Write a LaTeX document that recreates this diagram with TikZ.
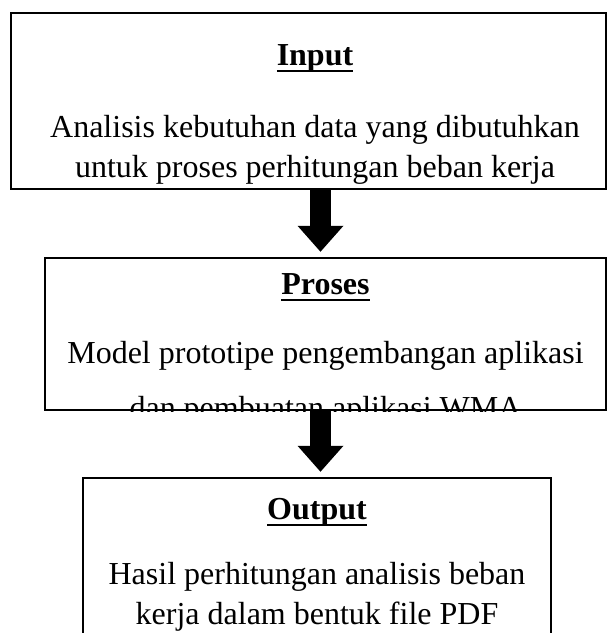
\documentclass[tikz,border=0pt]{standalone}
\usepackage{fontspec}
\setmainfont{Liberation Serif}
\usetikzlibrary{arrows.meta,positioning,calc}
\newcommand{\titleul}[1]{\setbox0\hbox{#1}\rlap{\rule[-6.5pt]{\wd0}{2pt}}\box0}

\begin{document}
\begin{tikzpicture}[x=1pt, y=-1pt,
  box/.style={draw, line width=2.5pt, inner sep=0pt},
  boxtitle/.style={font=\fontsize{32pt}{34pt}\selectfont\bfseries, inner sep=0pt, anchor=base},
  boxbody/.style={font=\fontsize{32pt}{40pt}\selectfont, align=center, inner sep=0pt, anchor=base},
  flow/.style={line width=21pt, -{Triangle[width=46pt, length=26pt, line width=0pt]}, shorten >=5pt}]
\useasboundingbox (0,0) rectangle (608,633);
\clip (0,0) rectangle (608,633);
% boxes
\node[box, minimum width=595pt, minimum height=176pt] (inbox) at (308.5,101) {};
\node[box, minimum width=561pt, minimum height=152pt] (probox) at (325.5,334) {};
\node[box, minimum width=468pt, minimum height=222pt] (outbox) at (317,589) {};
% input
\node[boxtitle] (intitle) at ([xshift=6.5pt, yshift=-54pt]inbox.north) {\titleul{Input}};
\node[boxbody] (inbody) at ([xshift=6.5pt, yshift=-166pt]inbox.north)
  {Analisis kebutuhan data yang dibutuhkan\\untuk proses perhitungan beban kerja};
% proses (text cut off by the box)
\node[boxtitle] (protitle) at ([yshift=-38pt]probox.north) {\titleul{Proses}};
\begin{scope}
  \clip (probox.north west) rectangle (probox.south east);
  \node[boxbody] (probody) at ([yshift=-162pt]probox.north)
    {Model prototipe pengembangan aplikasi\\[15pt]dan pembuatan aplikasi WMA};
\end{scope}
\node[box, minimum width=561pt, minimum height=152pt] at (probox) {};
% output
\node[boxtitle] (outtitle) at ([yshift=-43pt]outbox.north) {\titleul{Output}};
\node[boxbody] (outbody) at ([yshift=-148pt]outbox.north)
  {Hasil perhitungan analisis beban\\kerja dalam bentuk file PDF};
% arrows
\draw[flow] ([xshift=12pt]inbox.south) -- ([xshift=-5pt]probox.north);
\draw[flow] ([xshift=-5pt]probox.south) -- ([xshift=3.5pt]outbox.north);
\end{tikzpicture}
\end{document}
